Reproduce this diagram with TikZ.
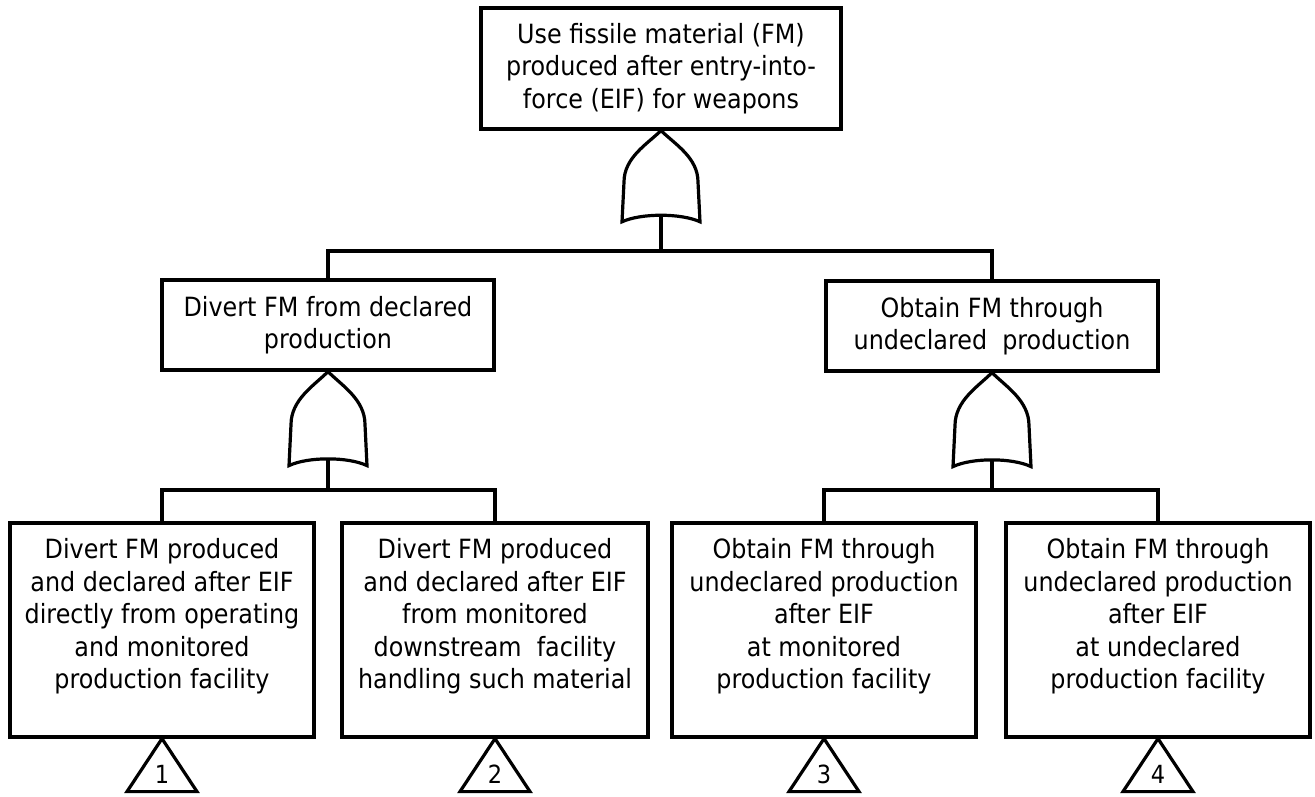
\documentclass[tikz,border=0pt]{standalone}
\usepackage{fontspec}
\setmainfont{DejaVu Sans}[FakeStretch=0.9]
\usetikzlibrary{calc}

\tikzset{
  lw/.style={line width=3.2pt},
  box/.style={draw, lw, inner sep=0pt, align=center,
    font=\fontsize{26.5pt}{32.5pt}\selectfont},
  txt/.style={inner sep=0pt, align=center, anchor=north,
    font=\fontsize{26.5pt}{32.5pt}\selectfont},
  num/.style={inner sep=0pt, font=\fontsize{25pt}{28pt}\selectfont},
  wire/.style={lw, line join=miter},
  tri/.style={lw, line join=miter},
  % OR gate, apex at the origin, output stem point at the bottom
  orgate/.pic={
    \draw[lw, line join=miter, miter limit=20]
      (0,0) .. controls (-14,14) and (-37,28) .. (-37,53) -- (-39,94)
      .. controls (-20,85) and (20,85) .. (39,94) -- (37,53)
      .. controls (37,28) and (14,14) .. (0,0) -- cycle;
    \coordinate (-apex) at (0,0);
    \coordinate (-out) at (0,87.5);
  }
}

\begin{document}
\begin{tikzpicture}[x=1pt, y=-1pt]
\useasboundingbox (0,0) rectangle (1315,796);

% top event
\node[box, minimum width=360pt, minimum height=121pt] (top) at (661,68.5)
  {Use fissile material (FM)\\produced after entry-into-\\force (EIF) for weapons};

% intermediate events
\node[box, minimum width=332pt, minimum height=90pt] (m1) at (328,325)
  {Divert FM from declared\\production};
\node[box, minimum width=332pt, minimum height=90pt] (m2) at (992,326)
  {Obtain FM through\\undeclared\ \ production};

% basic events
\node[box, minimum width=304pt, minimum height=214pt] (b1) at (162,630) {};
\node[box, minimum width=306pt, minimum height=214pt] (b2) at (495,630) {};
\node[box, minimum width=304pt, minimum height=214pt] (b3) at (824,630) {};
\node[box, minimum width=304pt, minimum height=214pt] (b4) at (1158,630) {};

\node[txt] (l1) at ($(b1.north)+(0,17)$)
  {Divert FM produced\\and declared after EIF\\directly from operating\\and monitored\\production facility};
\node[txt] (l2) at ($(b2.north)+(0,17)$)
  {Divert FM produced\\and declared after EIF\\from monitored\\downstream\ \ facility\\handling such material};
\node[txt] (l3) at ($(b3.north)+(0,17)$)
  {Obtain FM through\\undeclared production\\after EIF\\at monitored\\production facility};
\node[txt] (l4) at ($(b4.north)+(0,17)$)
  {Obtain FM through\\undeclared production\\after EIF\\at undeclared\\production facility};

% gates
\pic[yscale=0.97] (g0) at (top.south) {orgate};
\pic (g1) at (m1.south) {orgate};
\pic (g2) at (m2.south) {orgate};

% junctions
\coordinate (j0) at (661,251);
\coordinate (j1) at (328,490);
\coordinate (j2) at (992,490);

% connectors
\draw[wire] (g0-out) -- (j0);
\draw[wire] (m1.north) |- (j0) -| (m2.north);
\draw[wire] (g1-out) -- (j1);
\draw[wire] (b1.north) |- (j1) -| (b2.north);
\draw[wire] (g2-out) -- (j2);
\draw[wire] (b3.north) |- (j2) -| (b4.north);

% transfer triangles
\foreach \b/\n in {b1/1, b2/2, b3/3, b4/4}{
  \draw[tri] (\b.south) -- ++(-35,53) -- ++(70,0) -- cycle;
  \node[num] (n\n) at ($(\b.south)+(0,36)$) {\n};
}
\end{tikzpicture}
\end{document}
